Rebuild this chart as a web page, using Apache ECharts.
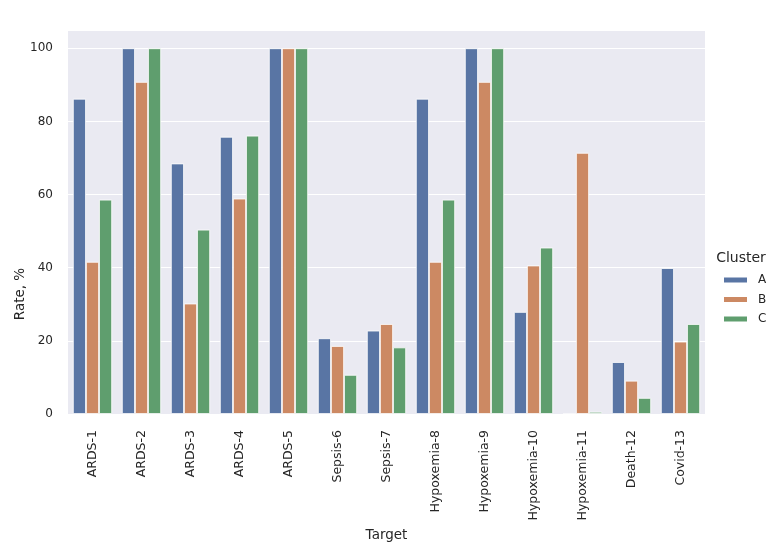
<!DOCTYPE html>
<html>
<head>
<meta charset="utf-8">
<script src="https://cdn.jsdelivr.net/npm/echarts@6/dist/echarts.min.js"></script>
<style>
  html, body {margin: 0; padding: 0; background: #fff;}
  #chart {width: 777px; height: 559px;}
</style>
</head>
<body>
<div id="chart"></div>
<script>
const targets = ['ARDS-1', 'ARDS-2', 'ARDS-3', 'ARDS-4', 'ARDS-5', 'Sepsis-6', 'Sepsis-7',
  'Hypoxemia-8', 'Hypoxemia-9', 'Hypoxemia-10', 'Hypoxemia-11', 'Death-12', 'Covid-13']
const clusters = ['A', 'B', 'C']
const clusterA = [86.2, 100, 68.5, 75.8, 100, 20.7, 22.8, 86.2, 100, 27.9, 0, 14.2, 39.9]
const clusterB = [41.6, 90.8, 30.2, 58.9, 100, 18.6, 24.6, 41.6, 90.8, 40.6, 71.4, 9.1, 19.8]
const clusterC = [58.6, 100, 50.4, 76.1, 100, 10.7, 18.2, 58.6, 100, 45.5, 0.6, 4.4, 24.6]
const yTicks = [0, 20, 40, 60, 80, 100]

const colors = ['#5975a4', '#cc8963', '#5f9e6e']
const textColor = '#262626'
const font = 'DejaVu Sans'

const chart = echarts.init(document.getElementById('chart'))

const makeSeries = (name, data, i) => ({
  name,
  type: 'bar',
  data,
  barGap: '0%',
  barCategoryGap: '20%',
  itemStyle: {color: colors[i], borderColor: '#ffffff', borderWidth: 0.8},
  emphasis: {disabled: true}
})

chart.setOption({
  animation: false,
  textStyle: {fontFamily: font},
  grid: {left: 68, right: 72, top: 30, bottom: 145, backgroundColor: '#eaeaf2', show: true, borderWidth: 0},
  legend: {
    orient: 'vertical',
    left: 717,
    top: 269,
    itemWidth: 25,
    itemHeight: 7,
    itemGap: 7.5,
    icon: 'rect',
    data: clusters,
    textStyle: {fontFamily: font, fontSize: 12, color: textColor, padding: [0, 0, 0, 5]}
  },
  xAxis: {
    type: 'category',
    data: targets,
    name: 'Target',
    nameLocation: 'middle',
    nameGap: 114,
    nameTextStyle: {fontFamily: font, fontSize: 13.5, color: textColor},
    axisLine: {show: false},
    axisTick: {show: false},
    axisLabel: {rotate: 90, margin: 16, fontFamily: font, fontSize: 12.5, color: textColor},
    splitLine: {show: false}
  },
  yAxis: {
    type: 'value',
    min: 0,
    max: 105,
    interval: 20,
    axisLine: {show: false},
    axisTick: {show: false},
    axisLabel: {
      margin: 15, fontFamily: font, fontSize: 12, color: textColor,
      formatter: v => (yTicks.includes(v) ? String(v) : '')
    },
    splitLine: {show: true, lineStyle: {color: '#ffffff', width: 1.2}}
  },
  graphic: [
    {
      type: 'text',
      x: 20, y: 294,
      rotation: Math.PI / 2,
      style: {text: 'Rate, %', fontFamily: font, fontSize: 13.5, fill: textColor, align: 'center', verticalAlign: 'middle'}
    },
    {
      type: 'text',
      x: 741, y: 258,
      style: {text: 'Cluster', fontFamily: font, fontSize: 14, fill: textColor, align: 'center', verticalAlign: 'middle'}
    }
  ],
  series: [
    makeSeries('A', clusterA, 0),
    makeSeries('B', clusterB, 1),
    makeSeries('C', clusterC, 2)
  ]
})
</script>
</body>
</html>
